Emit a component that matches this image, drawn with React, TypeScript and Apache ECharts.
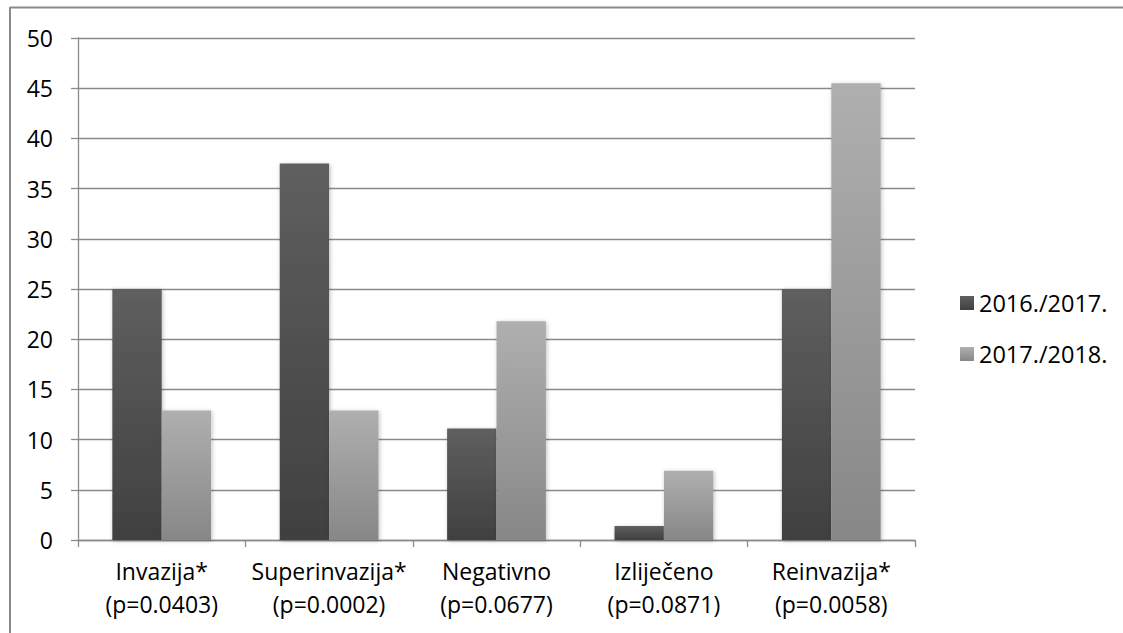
import React, { useEffect, useRef } from "react";
import * as echarts from "echarts";

const categories = [
  "Invazija*\n(p=0.0403)",
  "Superinvazija*\n(p=0.0002)",
  "Negativno\n(p=0.0677)",
  "Izliječeno\n(p=0.0871)",
  "Reinvazija*\n(p=0.0058)",
];
const seriesNames = ["2016./2017.", "2017./2018."];
const values2016 = [25, 37.5, 11.1, 1.4, 25];
const values2017 = [12.9, 12.9, 21.8, 6.9, 45.5];
const yTicks = { min: 0, max: 50, interval: 5 };

const FONT = "Open Sans";
const LINE = "#8a8a8a";

function grad(top: string, bottom: string) {
  return new echarts.graphic.LinearGradient(0, 0, 0, 1, [
    { offset: 0, color: top },
    { offset: 1, color: bottom },
  ]);
}

export default function App() {
  const ref = useRef<HTMLDivElement>(null);
  useEffect(() => {
    document.body.style.margin = "0";
    if (!ref.current) return;
    const chart = echarts.init(ref.current, null, { renderer: "svg" });
    const shadow = {
      shadowBlur: 4,
      shadowColor: "rgba(0,0,0,0.25)",
      shadowOffsetX: 1,
      shadowOffsetY: 1,
    };
    chart.setOption({
      animation: false,
      backgroundColor: "#ffffff",
      textStyle: { fontFamily: FONT },
      grid: { left: 78, right: 208, top: 38, bottom: 93, containLabel: false },
      legend: {
        orient: "vertical",
        left: 955,
        top: 286,
        itemWidth: 14,
        itemHeight: 14,
        itemGap: 27,
        icon: "rect",
        textStyle: { fontFamily: FONT, fontSize: 23.5, color: "#000", lineHeight: 23 },
        data: seriesNames,
      },
      xAxis: {
        type: "category",
        data: categories,
        axisLine: { show: true, lineStyle: { color: LINE, width: 1.3 } },
        axisTick: { show: true, length: 7, lineStyle: { color: LINE, width: 1.3 } },
        axisLabel: {
          interval: 0,
          margin: 14,
          fontFamily: FONT,
          fontSize: 23,
          lineHeight: 33,
          color: "#000",
        },
      },
      yAxis: {
        type: "value",
        min: yTicks.min,
        max: yTicks.max,
        interval: yTicks.interval,
        axisLine: { show: true, lineStyle: { color: LINE, width: 1.3 } },
        axisTick: { show: true, length: 7, lineStyle: { color: LINE, width: 1.3 } },
        splitLine: { show: true, lineStyle: { color: LINE, width: 1.3 } },
        axisLabel: { margin: 25, fontFamily: FONT, fontSize: 23, color: "#000" },
      },
      series: [
        {
          name: seriesNames[0],
          type: "bar",
          data: values2016,
          barGap: "0%",
          barCategoryGap: "41%",
          itemStyle: { color: grad("#5f5f5f", "#404040"), ...shadow },
        },
        {
          name: seriesNames[1],
          type: "bar",
          data: values2017,
          barGap: "0%",
          barCategoryGap: "41%",
          itemStyle: { color: grad("#afafaf", "#878787"), ...shadow },
        },
      ],
      graphic: [
        {
          type: "line",
          shape: { x1: 10, y1: 7.5, x2: 1123, y2: 7.5 },
          style: { stroke: LINE, lineWidth: 2 },
        },
        {
          type: "line",
          shape: { x1: 10, y1: 7, x2: 10, y2: 633 },
          style: { stroke: LINE, lineWidth: 2 },
        },
      ],
    });
    return () => chart.dispose();
  }, []);
  return <div ref={ref} style={{ width: 1123, height: 633 }} />;
}
